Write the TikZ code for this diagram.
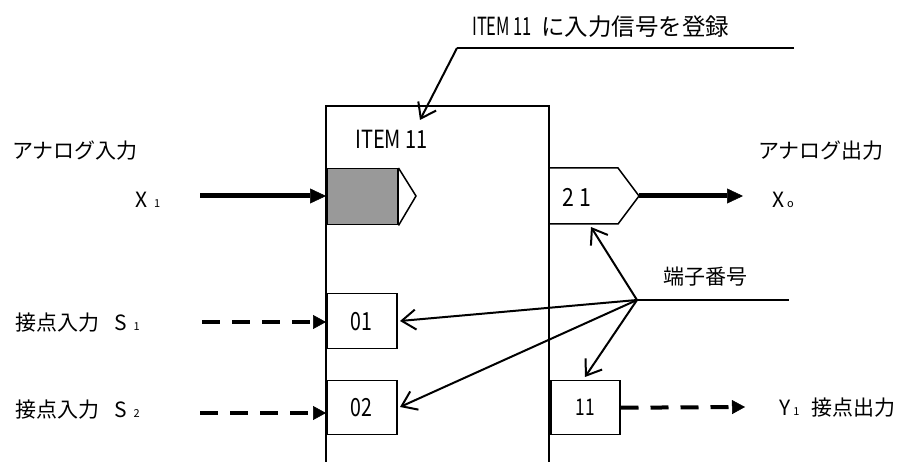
\documentclass[tikz,border=0pt]{standalone}
\usepackage{fontspec}
\usepackage{graphicx}
\setmainfont{Noto Sans CJK JP}
\usetikzlibrary{arrows.meta}
\definecolor{fillgray}{RGB}{153,153,153}
\newcommand\jpsize{\fontsize{21}{21}\selectfont}
\newcommand\subsz{\fontsize{11}{11}\selectfont}
\newcommand\narrowtxt[2]{\scalebox{#1}[1]{#2}}
\begin{document}
\begin{tikzpicture}[x=1pt,y=-1pt,
  lbl/.style={inner sep=0,anchor=west,font=\jpsize},
  numlbl/.style={inner sep=0,font=\fontsize{25}{25}\selectfont},
  termbox/.style={draw,line width=1.5pt,inner sep=0,anchor=north west,
    minimum width=70pt,minimum height=55pt,font=\fontsize{25}{25}\selectfont},
  thickarrow/.style={line width=5pt,-{Triangle[length=16pt,width=15pt,line width=0.5pt]}},
  dasharrow/.style={line width=4pt,dash pattern=on 18pt off 12pt,
    -{Triangle[length=13pt,width=14pt,line width=0.5pt]}},
  ptr/.style={line width=2pt,-{Straight Barb[length=14pt,width=20pt,line width=2pt]}},
  edge/.style={line width=1.5pt}
]
\useasboundingbox (0,0) rectangle (906,462);

% main block (open at the bottom)
\node[inner sep=0,outer sep=0,minimum width=223pt,minimum height=360pt,anchor=north west] (item) at (326,106) {};
\draw[edge] (item.south west) |- (item.north east) -- (item.south east);
\node[inner sep=0,anchor=west,font=\fontsize{25}{25}\selectfont] (itemlbl) at (355,139) {\narrowtxt{0.8}{ITEM 11}};

% note on top
\node[inner sep=0,anchor=west] (note) at (472,27)
  {\fontsize{25}{25}\selectfont\narrowtxt{0.66}{ITEM 11}\hspace{9pt}\fontsize{23.5}{23.5}\selectfont に入力信号を登録};
\coordinate (noteR) at (794,48);
\coordinate (noteL) at (457,48);
\coordinate (noteTip) at (420,120);
\draw[edge] (noteR) -- (noteL);
\draw[ptr] (noteL) -- (noteTip);

% analog input
\node[lbl] (ainlbl) at (12,151) {アナログ入力};
\node[lbl] (x1) at (135,200) {X\hspace{7pt}{\subsz 1}};
\node[draw,fill=fillgray,line width=1.5pt,inner sep=0,minimum width=71pt,minimum height=56pt,anchor=north west] (ain) at (326,168) {};
\coordinate (ainTip) at (416,196);
\draw[edge,line join=miter] (ain.north east) -- (ainTip) -- (ain.south east);
\coordinate (x1end) at (200,196);
\draw[thickarrow] (x1end) -- (x1end -| ain.west);

% analog output
\coordinate (aoutA) at (550,168);
\coordinate (aoutB) at (618,168);
\coordinate (aoutTip) at (639,196);
\coordinate (aoutC) at (618,224);
\coordinate (aoutD) at (550,224);
\draw[edge] (aoutA) -- (aoutB) -- (aoutTip) -- (aoutC) -- (aoutD);
\node[numlbl] (aout) at (577,197) {\narrowtxt{0.85}{2\hspace{6pt}1}};
\coordinate (xoend) at (743,196);
\draw[thickarrow] (aoutTip) -- (xoend);
\node[lbl] (aoutlbl) at (758,151) {アナログ出力};
\node[lbl] (xo) at (772,200) {X\hspace{3pt}{\subsz o}};

% contact inputs
\node[termbox] (t01) at (326,293) {\narrowtxt{0.78}{01}};
\node[termbox,minimum height=54pt] (t02) at (326,380) {\narrowtxt{0.78}{02}};
\node[lbl] (s1) at (15,323) {接点入力\hspace{15pt}S\hspace{7pt}{\subsz 1}};
\node[lbl] (s2) at (15,410) {接点入力\hspace{15pt}S\hspace{7pt}{\subsz 2}};
\coordinate (s1start) at (202,322);
\coordinate (s2start) at (200,413);
\draw[dasharrow] (s1start) -- (s1start -| t01.west);
\draw[dasharrow] (s2start) -- (s2start -| t02.west);

% contact output
\node[termbox,minimum width=69pt,minimum height=54pt,font=\fontsize{23}{23}\selectfont] (t11) at (550,380) {\narrowtxt{0.75}{11}};
\coordinate (y1end) at (745,407);
\draw[dasharrow] (t11.east) -- (y1end);
\node[lbl] (y1) at (779,408) {Y\hspace{3pt}{\subsz 1}\hspace{12pt}接点出力};

% terminal numbers
\node[lbl] (tn) at (663,277) {端子番号};
\coordinate (hub) at (637,300);
\coordinate (hubR) at (789,300);
\draw[edge] (hub) -- (hubR);
\coordinate (p21) at (591,227);
\coordinate (p01) at (400,321);
\coordinate (p02) at (400,407);
\coordinate (p11) at (585,377);
\draw[ptr] (hub) -- (p21);
\draw[ptr] (hub) -- (p01);
\draw[ptr] (hub) -- (p02);
\draw[ptr] (hub) -- (p11);
\end{tikzpicture}
\end{document}
